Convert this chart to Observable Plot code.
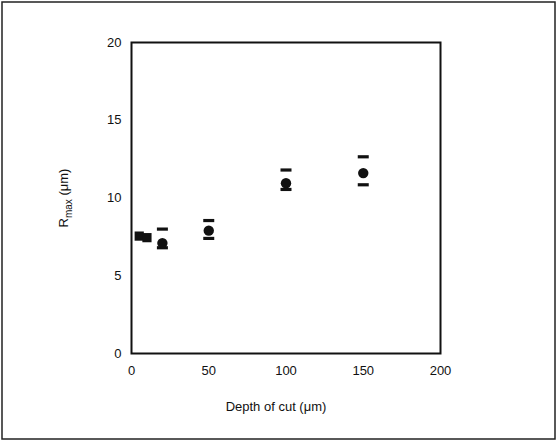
<!DOCTYPE html>
<html>
<head>
<meta charset="utf-8">
<script src="https://cdn.jsdelivr.net/npm/d3@7"></script>
<script src="https://cdn.jsdelivr.net/npm/@observablehq/plot@0.6"></script>
<style>
  body { margin: 0; background: #fff; }
  #chart svg { display: block; font-family: "Liberation Sans", Arial, sans-serif; }
</style>
</head>
<body>
<div id="chart"></div>
<script>
// Data
const depthSq = [5, 10];
const rmaxSq = [7.55, 7.45];
const depthCirc = [20, 50, 100, 150];
const rmaxCirc = [7.1, 7.9, 10.95, 11.6];
const upperCirc = [8.0, 8.55, 11.8, 12.65];
const lowerCirc = [6.8, 7.4, 10.55, 10.85];
const xTicks = [0, 50, 100, 150, 200];
const yTicks = [0, 5, 10, 15, 20];

const squares = depthSq.map((d, i) => ({x: d, y: rmaxSq[i]}));
const circles = depthCirc.map((d, i) => ({x: d, y: rmaxCirc[i]}));
const caps = depthCirc.flatMap((d, i) => [{x: d, y: upperCirc[i]}, {x: d, y: lowerCirc[i]}]);

const capSymbol = { draw(ctx) { ctx.rect(-5.5, -1.6, 11, 3.2); } };

const plot = Plot.plot({
  width: 558,
  height: 442,
  marginLeft: 131,
  marginRight: 118,
  marginTop: 42,
  marginBottom: 89,
  style: { fontSize: "13px", fontFamily: "Liberation Sans, Arial, sans-serif", color: "#111", background: "#fff" },
  x: { domain: [0, 200], ticks: xTicks, tickSize: 0, tickPadding: 12, label: null },
  y: { domain: [0, 20], ticks: yTicks, tickSize: 0, tickPadding: 10, label: null },
  marks: [
    Plot.frame({ stroke: "#111", strokeWidth: 2 }),
    Plot.dot(caps, { x: "x", y: "y", symbol: capSymbol, fill: "#111", stroke: "none" }),
    Plot.dot(circles, { x: "x", y: "y", r: 5.2, fill: "#111", stroke: "none" }),
    Plot.dot(squares, { x: "x", y: "y", symbol: "square", r: 5.2, fill: "#111", stroke: "none" }),
    Plot.text(["Depth of cut (μm)"], { frameAnchor: "bottom", dy: 57, dx: -10, fontSize: 13, fill: "#111" })
  ]
});

document.getElementById("chart").appendChild(plot);

const svg = d3.select(plot);
// outer border
svg.append("rect")
  .attr("x", 2).attr("y", 2).attr("width", 553).attr("height", 437)
  .attr("fill", "none").attr("stroke", "#222").attr("stroke-width", 1.5);
// y-axis label with subscript
const yl = svg.append("text")
  .attr("transform", "translate(68,198) rotate(-90)")
  .attr("text-anchor", "middle")
  .attr("font-size", 13)
  .attr("fill", "#111");
yl.append("tspan").text("R");
yl.append("tspan").attr("font-size", 10).attr("dy", 4).text("max");
yl.append("tspan").attr("dy", -4).text(" (μm)");
</script>
</body>
</html>
